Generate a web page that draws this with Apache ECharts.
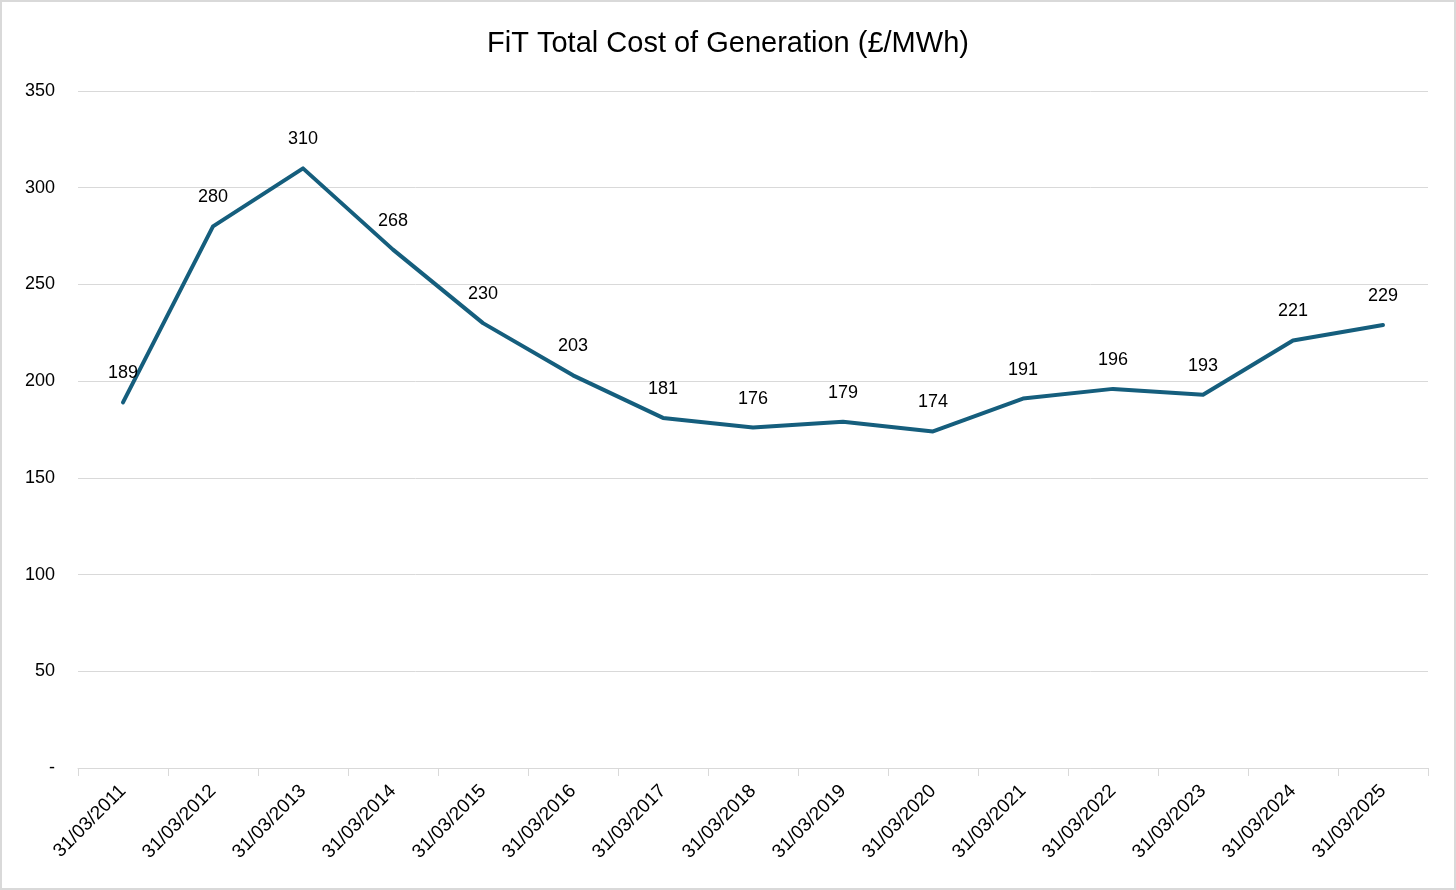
<!DOCTYPE html>
<html>
<head>
<meta charset="utf-8">
<title>FiT Total Cost of Generation</title>
<script src="https://cdn.jsdelivr.net/npm/echarts@6/dist/echarts.min.js"></script>
<style>
  html, body { margin: 0; padding: 0; background: #fff; }
  #chart {
    width: 1456px;
    height: 890px;
    box-sizing: border-box;
    border: 2px solid #d9d9d9;
  }
</style>
</head>
<body>
<div id="chart"></div>
<script>
// data
const dates = [
  '31/03/2011', '31/03/2012', '31/03/2013', '31/03/2014', '31/03/2015',
  '31/03/2016', '31/03/2017', '31/03/2018', '31/03/2019', '31/03/2020',
  '31/03/2021', '31/03/2022', '31/03/2023', '31/03/2024', '31/03/2025'
];
const costPerMWh = [189, 280, 310, 268, 230, 203, 181, 176, 179, 174, 191, 196, 193, 221, 229];

const fontFamily = '"Liberation Sans", Arial, sans-serif';
const lineColor = '#155e7d';

const chart = echarts.init(document.getElementById('chart'), null, { renderer: 'canvas' });

const option = {
  animation: false,
  backgroundColor: '#fff',
  title: {
    text: 'FiT Total Cost of Generation (£/MWh)',
    left: 'center',
    top: 22,
    textStyle: {
      fontFamily: fontFamily,
      fontSize: 29,
      fontWeight: 'normal',
      color: '#000'
    }
  },
  grid: {
    left: 76,
    right: 26,
    top: 89,
    bottom: 120,
    containLabel: false
  },
  xAxis: {
    type: 'category',
    data: dates,
    boundaryGap: true,
    axisLine: { lineStyle: { color: '#d9d9d9', width: 1 } },
    axisTick: { show: true, length: 8, lineStyle: { color: '#d9d9d9' } },
    axisLabel: {
      rotate: 45,
      margin: 20,
      fontFamily: fontFamily,
      fontSize: 19,
      color: '#000',
      interval: 0
    }
  },
  yAxis: {
    type: 'value',
    min: 0,
    max: 350,
    interval: 50,
    axisLine: { show: false },
    axisTick: { show: false },
    splitLine: { lineStyle: { color: '#d9d9d9', width: 1 } },
    axisLabel: {
      margin: 23,
      fontFamily: fontFamily,
      fontSize: 18,
      color: '#000',
      formatter: function (v) { return v === 0 ? '-' : String(v); }
    }
  },
  series: [
    {
      name: 'Cost',
      type: 'line',
      data: costPerMWh,
      symbol: 'circle',
      symbolSize: 0,
      showSymbol: true,
      lineStyle: { color: lineColor, width: 4, cap: 'round', join: 'round' },
      itemStyle: { color: lineColor },
      label: {
        show: true,
        position: 'top',
        distance: 20,
        fontFamily: fontFamily,
        fontSize: 18,
        color: '#000'
      }
    }
  ]
};

chart.setOption(option);
</script>
</body>
</html>
